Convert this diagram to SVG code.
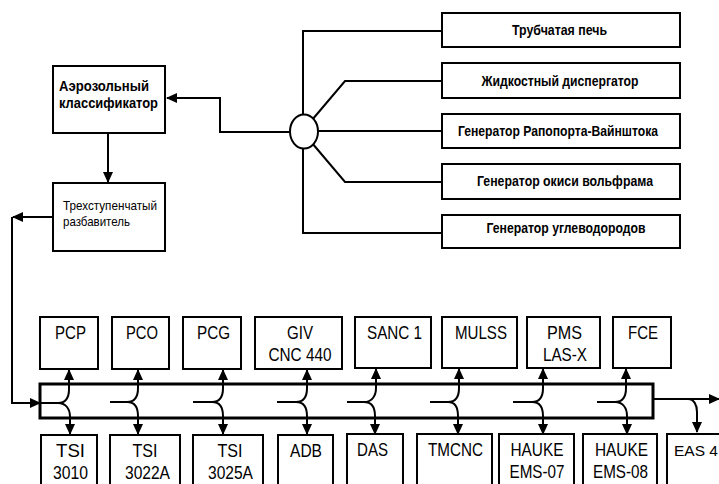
<svg xmlns="http://www.w3.org/2000/svg" width="719" height="484" viewBox="0 0 719 484">
<style>
.box{fill:#fff;stroke:#000;stroke-width:2}
.bus{fill:none;stroke:#000;stroke-width:3}
.ln{fill:none;stroke:#000;stroke-width:2}
.ar{marker-end:url(#ah)}
.t{font-family:"Liberation Sans",Arial,sans-serif;fill:#000}
.m{text-anchor:middle}
.rb{font-size:15px;font-weight:bold}
.lb{font-size:19px}
</style>
<defs>
<marker id="ah" viewBox="0 0 11 10" refX="10" refY="5" markerWidth="11" markerHeight="10" markerUnits="userSpaceOnUse" orient="auto"><path d="M0,0 L11,5 L0,10 z" fill="#000"/></marker>
</defs>
<rect width="719" height="484" fill="#fff"/>

<g id="connectors">
  <path class="ln" d="M442,31 H303 V233 H442"/>
  <path class="ln" d="M442,81 H345 L312,120"/>
  <path class="ln" d="M442,131 H318"/>
  <path class="ln" d="M442,182 H345 L312,143"/>
  <path class="ln ar" d="M290,132 H220 V98 H167"/>
  <path class="ln ar" d="M108,133 V182"/>
  <path class="ln ar" d="M53,217 H13"/>
  <path class="ln ar" d="M12,217 V403 H40"/>
  <path class="ln" d="M40,403 H58 M110,402 H127 M193,402 H212 M277,402 H296 M347,402 H364 M430,402 H448 M513,402 H532 M597,402 H615"/>
  <path class="ln ar" d="M58,403 C66,403 69,397 69,389 V370"/>
  <path class="ln ar" d="M58,403 C66,403 70,409 70,417 V434"/>
  <path class="ln ar" d="M127,402 C135,402 138,396 138,388 V370"/>
  <path class="ln ar" d="M127,402 C135,402 138,408 138,416 V434"/>
  <path class="ln ar" d="M212,402 C220,402 223,396 223,388 V370"/>
  <path class="ln ar" d="M212,402 C220,402 223,408 223,416 V434"/>
  <path class="ln ar" d="M296,402 C304,402 307,396 307,388 V370"/>
  <path class="ln ar" d="M296,402 C304,402 307,408 307,416 V434"/>
  <path class="ln ar" d="M364,402 C372,402 376,396 376,388 V369"/>
  <path class="ln ar" d="M364,402 C372,402 375,408 375,416 V434"/>
  <path class="ln ar" d="M448,402 C456,402 459,396 459,388 V369"/>
  <path class="ln ar" d="M448,402 C456,402 458,408 458,416 V434"/>
  <path class="ln ar" d="M532,402 C540,402 543,396 543,388 V369"/>
  <path class="ln ar" d="M532,402 C540,402 543,408 543,416 V434"/>
  <path class="ln ar" d="M615,402 C623,402 626,396 626,388 V369"/>
  <path class="ln ar" d="M615,402 C623,402 627,408 627,416 V434"/>
  <path class="ln ar" d="M653,399 H719"/>
  <path class="ln ar" d="M688,399 C694,399 697,405 697,412 V432"/>
</g>

<g id="splitter"><ellipse cx="304" cy="131.5" rx="14" ry="17" fill="#fff" stroke="#000" stroke-width="2"/></g>

<g id="classifier"><rect class="box" x="53" y="66" width="112" height="67"/>
  <text class="t" x="59" y="91" font-size="15" font-weight="bold" textLength="90" lengthAdjust="spacingAndGlyphs">Аэрозольный</text>
  <text class="t" x="59" y="108" font-size="15" font-weight="bold" textLength="99" lengthAdjust="spacingAndGlyphs">классификатор</text></g>
<g id="diluter"><rect class="box" x="53" y="183" width="112" height="68"/>
  <text class="t" x="63" y="210" font-size="13" textLength="94" lengthAdjust="spacingAndGlyphs">Трехступенчатый</text>
  <text class="t" x="63" y="226" font-size="13" textLength="67" lengthAdjust="spacingAndGlyphs">разбавитель</text></g>

<g id="gen1"><rect class="box" x="442" y="13" width="238" height="34"/><text class="t m rb" x="559.5" y="35" textLength="95" lengthAdjust="spacingAndGlyphs">Трубчатая печь</text></g>
<g id="gen2"><rect class="box" x="442" y="63" width="238" height="35"/><text class="t m rb" x="560" y="86" textLength="157" lengthAdjust="spacingAndGlyphs">Жидкостный диспергатор</text></g>
<g id="gen3"><rect class="box" x="442" y="114" width="238" height="34"/><text class="t m rb" x="558" y="136" textLength="200" lengthAdjust="spacingAndGlyphs">Генератор Рапопорта-Вайнштока</text></g>
<g id="gen4"><rect class="box" x="442" y="164" width="238" height="35"/><text class="t m rb" x="565" y="186" textLength="176" lengthAdjust="spacingAndGlyphs">Генератор окиси вольфрама</text></g>
<g id="gen5"><rect class="box" x="442" y="215" width="238" height="33"/><text class="t m rb" x="566" y="233" textLength="159" lengthAdjust="spacingAndGlyphs">Генератор углеводородов</text></g>

<g id="bus"><rect class="bus" x="40" y="384" width="613" height="34"/></g>

<g id="pcp"><rect class="box" x="40" y="317" width="58" height="52"/><text class="t m lb" x="70.5" y="339" textLength="31" lengthAdjust="spacingAndGlyphs">PCP</text></g>
<g id="pco"><rect class="box" x="112" y="317" width="57" height="52"/><text class="t m lb" x="142" y="339" textLength="32" lengthAdjust="spacingAndGlyphs">PCO</text></g>
<g id="pcg"><rect class="box" x="183" y="317" width="58" height="52"/><text class="t m lb" x="213.5" y="339" textLength="33" lengthAdjust="spacingAndGlyphs">PCG</text></g>
<g id="giv"><rect class="box" x="255" y="317" width="87" height="52"/><text class="t m lb" x="300" y="339" textLength="26" lengthAdjust="spacingAndGlyphs">GIV</text><text class="t m lb" x="300" y="361" textLength="63" lengthAdjust="spacingAndGlyphs">CNC 440</text></g>
<g id="sanc"><rect class="box" x="355" y="317" width="76" height="51"/><text class="t m lb" x="394.5" y="339" textLength="55" lengthAdjust="spacingAndGlyphs">SANC 1</text></g>
<g id="mulss"><rect class="box" x="442" y="317" width="75" height="51"/><text class="t m lb" x="481" y="339" textLength="52" lengthAdjust="spacingAndGlyphs">MULSS</text></g>
<g id="pms"><rect class="box" x="527" y="317" width="73" height="51"/><text class="t m lb" x="564.5" y="339" textLength="35" lengthAdjust="spacingAndGlyphs">PMS</text><text class="t m lb" x="565" y="361" textLength="44" lengthAdjust="spacingAndGlyphs">LAS-X</text></g>
<g id="fce"><rect class="box" x="613" y="317" width="58" height="51"/><text class="t m lb" x="643" y="339" textLength="30" lengthAdjust="spacingAndGlyphs">FCE</text></g>

<g id="tsi3010"><rect class="box" x="41" y="435" width="56" height="60"/><text class="t m lb" x="70.5" y="457" textLength="29" lengthAdjust="spacingAndGlyphs">TSI</text><text class="t m lb" x="70.5" y="479" textLength="35" lengthAdjust="spacingAndGlyphs">3010</text></g>
<g id="tsi3022a"><rect class="box" x="110" y="435" width="70" height="60"/><text class="t m lb" x="145" y="457" textLength="25" lengthAdjust="spacingAndGlyphs">TSI</text><text class="t m lb" x="147.5" y="479" textLength="45" lengthAdjust="spacingAndGlyphs">3022A</text></g>
<g id="tsi3025a"><rect class="box" x="193" y="435" width="70" height="60"/><text class="t m lb" x="230" y="457" textLength="25" lengthAdjust="spacingAndGlyphs">TSI</text><text class="t m lb" x="230.5" y="479" textLength="45" lengthAdjust="spacingAndGlyphs">3025A</text></g>
<g id="adb"><rect class="box" x="278" y="435" width="55" height="60"/><text class="t m lb" x="306" y="457" textLength="32" lengthAdjust="spacingAndGlyphs">ADB</text></g>
<g id="das"><rect class="box" x="347" y="434" width="56" height="61"/><text class="t m lb" x="372.5" y="456" textLength="31" lengthAdjust="spacingAndGlyphs">DAS</text></g>
<g id="tmcnc"><rect class="box" x="417" y="434" width="75" height="61"/><text class="t m lb" x="455.5" y="456" textLength="55" lengthAdjust="spacingAndGlyphs">TMCNC</text></g>
<g id="hauke07"><rect class="box" x="499" y="434" width="75" height="61"/><text class="t m lb" x="537" y="456" textLength="53" lengthAdjust="spacingAndGlyphs">HAUKE</text><text class="t m lb" x="537" y="478" textLength="55" lengthAdjust="spacingAndGlyphs">EMS-07</text></g>
<g id="hauke08"><rect class="box" x="583" y="434" width="74" height="61"/><text class="t m lb" x="621.5" y="456" textLength="53" lengthAdjust="spacingAndGlyphs">HAUKE</text><text class="t m lb" x="620.5" y="478" textLength="55" lengthAdjust="spacingAndGlyphs">EMS-08</text></g>
<g id="eas4"><rect class="box" x="667" y="434" width="70" height="61"/><text class="t" x="674" y="456" font-size="15.5">EAS 4</text></g>
</svg>
